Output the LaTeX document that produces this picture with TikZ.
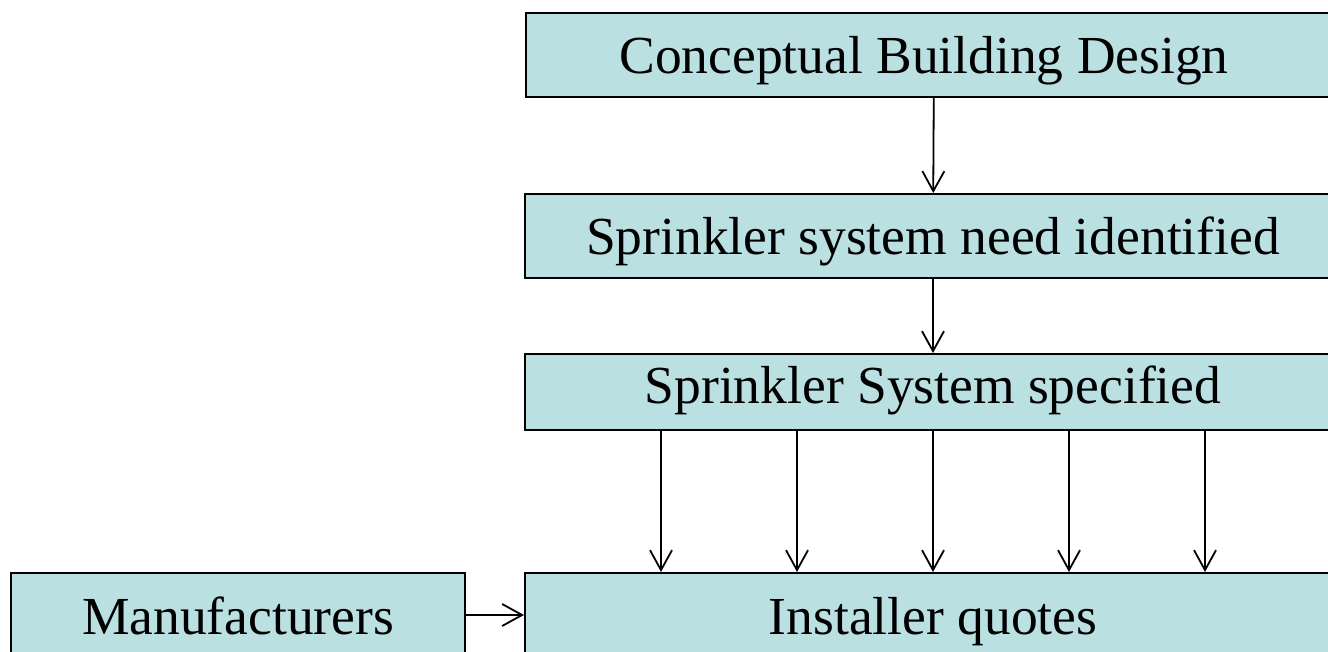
\documentclass[tikz,border=0pt]{standalone}
\usepackage{fontspec}
\setmainfont{Liberation Serif}
\usetikzlibrary{arrows.meta}
\definecolor{boxfill}{RGB}{186,224,226}
\tikzset{
  stage/.style={draw, fill=boxfill, line width=2pt, anchor=north west,
    inner sep=0pt, minimum width=816, minimum height=84,
    text height=44pt, text depth=6pt,
    font=\fontsize{53.5}{60}\selectfont},
  flow/.style={-{Straight Barb[length=20pt, width=22pt, line width=1.8pt]}, line width=1.8pt}
}

\begin{document}
\begin{tikzpicture}[x=1pt, y=-1pt]
\useasboundingbox (0,0) rectangle (1328,652);
\clip (0,0) rectangle (1328,652);
\fill[white] (0,0) rectangle (1328,652);
% Boxes
    \node[stage] (design) at (525,12) {\hspace*{-20pt}Conceptual Building Design};
    \node[stage] (need) at (524,193) {Sprinkler system need identified};
    \node[stage, minimum height=76, text height=36pt, text depth=14pt] (spec) at (524,353) {Sprinkler System specified};
    \node[stage] (quotes) at (524,572) {Installer quotes};
    \node[stage, minimum width=454] (manuf) at (10,572) {Manufacturers};
% Arrows
    \draw[flow] (design) -- (need);
    \draw[flow] (need) -- (spec);
    \foreach \dx in {-272,-136,0,136,272}
        \draw[flow] ([xshift=\dx]spec.south) -- ([xshift=\dx]quotes.north);
    \draw[flow] (manuf.east) -- (manuf.east -| quotes.west);
\end{tikzpicture}
\end{document}
